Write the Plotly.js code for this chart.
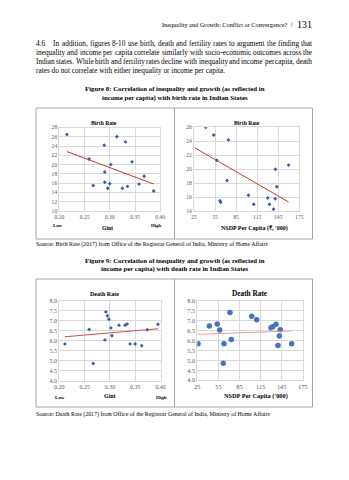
<!DOCTYPE html>
<html><head><meta charset="utf-8">
<script src="https://cdn.plot.ly/plotly-3.0.1.min.js"></script>
<style>html,body{margin:0;padding:0;background:#fff;} #chart{width:349px;height:480px;}</style>
</head><body><div id="chart"></div>
<script>
// ---------- DATA ----------
// Figure 8 (birth rate)
const giniBirth   = [0.215, 0.314, 0.331, 0.289, 0.259, 0.302, 0.344, 0.290, 0.368, 0.290, 0.267, 0.300, 0.296, 0.325, 0.335, 0.358, 0.387];
const birthByGini = [26.5, 26.0, 24.9, 24.2, 21.2, 20.0, 20.6, 18.4, 17.5, 16.2, 15.5, 15.9, 14.9, 14.9, 15.3, 15.8, 14.3];
const nsdpBirth   = [26, 41.7, 53.1, 74, 57.4, 141, 159.7, 72.1, 143, 102.6, 62, 63, 130, 140.7, 110, 132.6, 138.3];
const birthByNsdp = [26.5, 26.0, 24.9, 24.2, 21.3, 20.0, 20.6, 18.4, 17.5, 16.3, 15.5, 15.3, 15.9, 15.8, 15.0, 15.0, 14.3];
// Figure 9 (death rate)
const giniDeath   = [0.211, 0.259, 0.267, 0.292, 0.295, 0.298, 0.302, 0.290, 0.304, 0.318, 0.330, 0.334, 0.340, 0.350, 0.363, 0.374, 0.395];
const deathByGini = [5.83, 6.55, 4.85, 7.43, 7.24, 7.06, 6.63, 6.03, 6.24, 6.76, 6.76, 6.83, 5.83, 5.83, 5.74, 6.54, 6.81];
const nsdpDeath   = [26, 42.1, 53.4, 56.9, 63, 62, 71.5, 73.4, 102.4, 109.5, 129.8, 132.3, 137, 143.1, 141.7, 139.8, 159.3];
const deathByNsdp = [5.83, 6.72, 6.82, 6.52, 5.83, 4.85, 7.4, 6.04, 7.21, 7.03, 6.63, 6.69, 6.81, 6.53, 6.22, 5.74, 5.83];
// Tick values
const giniTicks  = [0.20, 0.25, 0.30, 0.35, 0.40];
const nsdpTicks  = [25, 55, 85, 115, 145, 175];
const birthTicksL = [10, 12, 14, 16, 18, 20, 22, 24, 26, 28];
const birthTicksR = [14, 16, 18, 20, 22, 24, 26];
const deathTicks = [4.0, 4.5, 5.0, 5.5, 6.0, 6.5, 7.0, 7.5, 8.0];

// ---------- HELPERS ----------
const W = 349, H = 480;
const SERIF = '"Liberation Serif", "Times New Roman", serif';
const fx = x => x / W, fy = y => 1 - y / H;
function fit(xs, ys) {
  const n = xs.length;
  const mx = xs.reduce((a, b) => a + b, 0) / n, my = ys.reduce((a, b) => a + b, 0) / n;
  let sxy = 0, sxx = 0;
  for (let i = 0; i < n; i++) { sxy += (xs[i] - mx) * (ys[i] - my); sxx += (xs[i] - mx) ** 2; }
  const b = sxy / sxx, a = my - b * mx;
  const x0 = Math.min(...xs), x1 = Math.max(...xs);
  return { x: [x0, x1], y: [a + b * x0, a + b * x1] };
}
const ctx = document.createElement('canvas').getContext('2d');
function measure(t, size, bold) { ctx.font = (bold ? 'bold ' : '') + size + 'px "Liberation Serif"'; return ctx.measureText(t).width; }

const ann = [];
function txt(text, x, y, size, opts = {}) {
  ann.push(Object.assign({
    text: opts.bold ? '<b>' + text + '</b>' : text,
    x: fx(x), y: fy(y), xref: 'paper', yref: 'paper', showarrow: false,
    xanchor: 'center', yanchor: 'middle', borderpad: 0, borderwidth: 0,
    font: { family: SERIF, size: size, color: opts.color || '#000' }
  }, opts.extra || {}));
}
function justify(text, x0, x1, y, size) {
  const words = text.split(' ');
  const ws = words.map(w => measure(w, size));
  const total = ws.reduce((a, b) => a + b, 0);
  const gap = (x1 - x0 - total) / (words.length - 1);
  let x = x0;
  words.forEach((w, i) => { txt(w, x, y, size, { extra: { xanchor: 'left' } }); x += ws[i] + gap; });
}

// ---------- PAGE TEXT ----------
txt('Inequality and Growth: Conflict or Convergence?', 287, 24.5, 6.3, { extra: { xanchor: 'right' } });
txt('|', 291, 24.5, 7, {});
txt('131', 312, 24, 10, { extra: { xanchor: 'right' } });

const PF = 7.3, L0 = 43.3, LS = 9.1;
txt('4.6', 36, L0, PF, { extra: { xanchor: 'left' } });
justify('In addition, figures 8-10 use birth, death and fertility rates to argument the finding that', 53.3, 312, L0, PF);
justify('inequality and income per capita correlate similarly with socio-economic outcomes across the', 36, 312, L0 + LS, PF);
justify('Indian states. While birth and fertility rates decline with inequality and income per capita, death', 36, 312, L0 + 2 * LS, PF);
txt('rates do not correlate with either inequality or income per capita.', 36, L0 + 3 * LS, PF, { extra: { xanchor: 'left' } });

txt('Figure 8: Correlation of inequality and growth (as reflected in', 174.5, 89, 6.8, { bold: true });
txt('income per capita) with birth rate in Indian States', 174.5, 98, 6.8, { bold: true });
txt('Source: Birth Rate (2017) from Office of the Registrar General of India, Ministry of Home Affairs', 36, 244.3, 5.9, { extra: { xanchor: 'left' } });

txt('Figure 9: Correlation of inequality and growth (as reflected in', 174.5, 260.8, 6.8, { bold: true });
txt('income per capita) with death rate in Indian States', 174.5, 269.3, 6.8, { bold: true });
txt('Source: Death Rate (2017) from Office of the Registrar General of India, Ministry of Home Affairs', 36, 414.5, 5.9, { extra: { xanchor: 'left' } });

// ---------- CHART TEXT ----------
txt('Birth Rate', 104, 122.7, 5.6, { bold: true });
txt('Birth Rate', 247, 123, 5.6, { bold: true });
txt('Gini', 107, 228.3, 5.8, { bold: true });
txt('Low', 57.5, 225, 4.8, { bold: true });
txt('High', 156, 225, 4.8, { bold: true });
txt("NSDP Per Capita (₹, '000)", 254, 228.3, 6, { bold: true });

txt('Death Rate', 104, 293.5, 6, { bold: true });
txt('Death Rate', 250, 293.5, 7.3, { bold: true });
txt('Gini', 110, 396, 6, { bold: true });
txt('Low', 60, 397.3, 5, { bold: true });
txt('High', 161.5, 397.3, 5, { bold: true });
txt("NSDP Per Capita ('000)", 256, 395.7, 6.3, { bold: true });

// ---------- SHAPES ----------
const BOX = '#a6a6a6';
const shapes = [
  { type: 'rect', xref: 'paper', yref: 'paper', x0: fx(36), x1: fx(312.5), y0: fy(108), y1: fy(239), line: { color: BOX, width: 1 } },
  { type: 'line', xref: 'paper', yref: 'paper', x0: fx(174.5), x1: fx(174.5), y0: fy(108), y1: fy(239), line: { color: BOX, width: 1 } },
  { type: 'rect', xref: 'paper', yref: 'paper', x0: fx(36), x1: fx(312.5), y0: fy(279), y1: fy(407), line: { color: BOX, width: 1 } },
  { type: 'line', xref: 'paper', yref: 'paper', x0: fx(174.5), x1: fx(174.5), y0: fy(279), y1: fy(407), line: { color: BOX, width: 1 } }
];

// ---------- TRACES ----------
const MK = '#3a5ea6';
function pts(x, y, xa, ya, size, sym, col) {
  return { type: 'scatter', mode: 'markers', x: x, y: y, xaxis: xa, yaxis: ya, cliponaxis: true,
    marker: { size: size, symbol: sym, color: col, line: { width: 0 } }, hoverinfo: 'skip' };
}
function trend(x, y, xa, ya, col) {
  const f = fit(x, y);
  return { type: 'scatter', mode: 'lines', x: f.x, y: f.y, xaxis: xa, yaxis: ya, line: { color: col, width: 1 }, hoverinfo: 'skip' };
}
const data = [
  pts(giniBirth, birthByGini, 'x', 'y', 3, 'diamond', MK), trend(giniBirth, birthByGini, 'x', 'y', '#c0392b'),
  pts(nsdpBirth, birthByNsdp, 'x2', 'y2', 3, 'diamond', MK), trend(nsdpBirth, birthByNsdp, 'x2', 'y2', '#c0392b'),
  pts(giniDeath, deathByGini, 'x3', 'y3', 3, 'diamond', MK), trend(giniDeath, deathByGini, 'x3', 'y3', '#c8504d'),
  pts(nsdpDeath, deathByNsdp, 'x4', 'y4', 5.5, 'circle', '#4472c4'), trend(nsdpDeath, deathByNsdp, 'x4', 'y4', '#e89a9a')
];

// ---------- AXES ----------
const GRID = '#d9d9d9';
function ax(domain, range, tickvals, fmt, fs, anchor) {
  return { domain: domain, range: range, tickvals: tickvals, tickformat: fmt, anchor: anchor,
    showgrid: true, gridcolor: GRID, gridwidth: 1, zeroline: false, showline: true, linecolor: GRID, linewidth: 1, mirror: true,
    ticks: '', tickfont: { family: SERIF, size: fs, color: '#595959' }, fixedrange: true };
}
const layout = {
  width: W, height: H, margin: { l: 0, r: 0, t: 0, b: 0 }, showlegend: false,
  paper_bgcolor: '#fff', plot_bgcolor: '#fff',
  xaxis:  ax([fx(59.3), fx(160.3)], [0.1999, 0.4001], giniTicks, '.2f', 5.6, 'y'),
  yaxis:  ax([fy(211), fy(127.5)], [10, 28], birthTicksL, 'd', 5.6, 'x'),
  xaxis2: ax([fx(194), fx(299.3)], [25, 175], nsdpTicks, 'd', 5.6, 'y2'),
  yaxis2: ax([fy(211.3), fy(127.3)], [14, 26], birthTicksR, 'd', 5.6, 'x2'),
  xaxis3: ax([fx(59.3), fx(160.5)], [0.1999, 0.4001], giniTicks, '.2f', 6, 'y3'),
  yaxis3: ax([fy(380.5), fy(300.5)], [4, 8], deathTicks, '.1f', 6, 'x3'),
  xaxis4: ax([fx(197.3), fx(302.7)], [25, 175], nsdpTicks, 'd', 6.2, 'y4'),
  yaxis4: ax([fy(380.3), fy(300.5)], [4, 8], deathTicks, '.1f', 6.2, 'x4'),
  annotations: ann, shapes: shapes
};
Plotly.newPlot('chart', data, layout, { displayModeBar: false, staticPlot: true });
</script>
</body></html>
